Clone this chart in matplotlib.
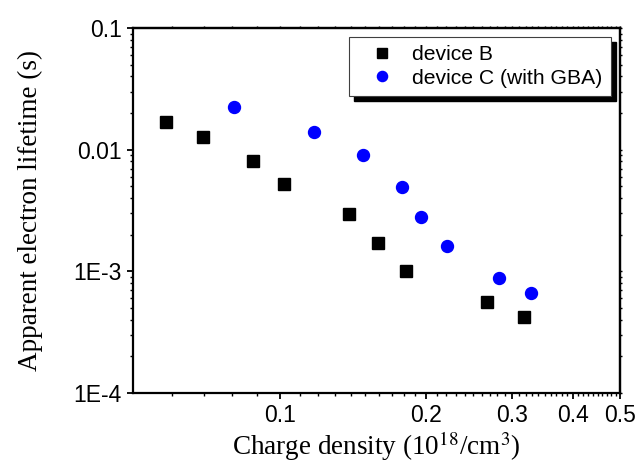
import numpy as np
import matplotlib
matplotlib.use("Agg")
import matplotlib.pyplot as plt
from matplotlib.transforms import ScaledTranslation
from matplotlib.ticker import FixedLocator, NullFormatter

# device B (black squares)
b_density = [0.0585, 0.0697, 0.088, 0.102, 0.139, 0.159, 0.182, 0.267, 0.317]
b_lifetime = [0.0169, 0.0127, 0.0081, 0.0052, 0.00296, 0.00171, 0.00101, 0.00056, 0.000422]

# device C with GBA (blue circles)
c_density = [0.0807, 0.1175, 0.148, 0.178, 0.195, 0.221, 0.2815, 0.328]
c_lifetime = [0.0224, 0.0140, 0.00904, 0.00494, 0.0028, 0.00162, 0.000883, 0.000665]

x_ticks = [0.1, 0.2, 0.3, 0.4, 0.5]
x_ticklabels = ["0.1", "0.2", "0.3", "0.4", "0.5"]
y_ticks = [1e-4, 1e-3, 1e-2, 1e-1]
y_ticklabels = ["1E-4", "1E-3", "0.01", "0.1"]

sans = ["Liberation Sans", "DejaVu Sans"]
serif = "Liberation Serif"
plt.rcParams["mathtext.fontset"] = "stix"

fig = plt.figure(figsize=(6.4, 4.63), dpi=100)
ax = fig.add_axes([0.2078, 0.1512, 0.761, 0.7883])

ax.plot(b_density, b_lifetime, ls="none", marker="s", ms=8, color="black",
        label="device B", zorder=3)
ax.plot(c_density, c_lifetime, ls="none", marker="o", ms=8.6, color="#0000ff",
        mec="#0000ff", label="device C (with GBA)", zorder=3)

ax.set_xscale("log")
ax.set_yscale("log")
ax.set_xlim(0.05, 0.5)
ax.set_ylim(1e-4, 0.1)

# Origin style minor ticks: every 0.01 on x
x_minor = [round(v, 2) for v in np.arange(0.06, 0.5, 0.01) if round(v, 2) not in x_ticks]
ax.xaxis.set_major_locator(FixedLocator(x_ticks))
ax.xaxis.set_minor_locator(FixedLocator(x_minor))
ax.xaxis.set_minor_formatter(NullFormatter())
ax.set_xticklabels(x_ticklabels)
ax.set_yticks(y_ticks)
ax.set_yticklabels(y_ticklabels)
ax.yaxis.set_minor_formatter(NullFormatter())

for lab in ax.get_xticklabels() + ax.get_yticklabels():
    lab.set_family(sans)
    lab.set_fontsize(16.5)

for sp in ax.spines.values():
    sp.set_linewidth(1.6)
ax.tick_params(which="major", direction="out", length=4, width=1.3, pad=4)
ax.tick_params(which="minor", direction="out", length=2.2, width=1.0)

# short mirrored ticks on top and right
top = ax.secondary_xaxis("top")
top.xaxis.set_major_locator(FixedLocator(x_ticks))
top.xaxis.set_minor_locator(FixedLocator(x_minor))
top.tick_params(which="both", direction="out", length=1.5, width=1.0, labeltop=False)
top.xaxis.set_minor_formatter(NullFormatter())
top.spines["top"].set_linewidth(1.6)
right = ax.secondary_yaxis("right")
right.set_yticks(y_ticks)
right.tick_params(which="both", direction="out", length=1.5, width=1.0, labelright=False)
right.yaxis.set_minor_formatter(NullFormatter())
right.spines["right"].set_linewidth(1.6)

ax.set_xlabel("Charge density (10$^{18}$/cm$^{3}$)", family=serif, fontsize=19.5, labelpad=2)
ax.set_ylabel("Apparent electron lifetime (s)", family=serif, fontsize=19.5, labelpad=22)

handles, labels = ax.get_legend_handles_labels()
leg_opts = dict(loc="upper right", borderaxespad=0, fancybox=False, frameon=True,
                framealpha=1, prop={"family": sans, "size": 15.2},
                borderpad=0.4, handlelength=2.3, handletextpad=0.3,
                labelspacing=0.2, markerscale=0.85)
anchor = (611 / 640, 1 - 37 / 463)

# drop shadow: same legend, shifted and filled black, drawn underneath
shift = ScaledTranslation(5 / 100, -5 / 100, fig.dpi_scale_trans)
shadow = fig.legend(handles, labels, bbox_to_anchor=anchor,
                    bbox_transform=fig.transFigure + shift,
                    facecolor="black", edgecolor="black", **leg_opts)
for t in shadow.get_texts():
    t.set_alpha(0)
for h in shadow.legend_handles:
    h.set_alpha(0)
shadow.set_zorder(4.9)

leg = fig.legend(handles, labels, bbox_to_anchor=anchor,
                 bbox_transform=fig.transFigure, edgecolor="#404040", **leg_opts)
leg.get_frame().set_linewidth(0.8)
leg.set_zorder(5)

fig.savefig("out.png", dpi=100)
